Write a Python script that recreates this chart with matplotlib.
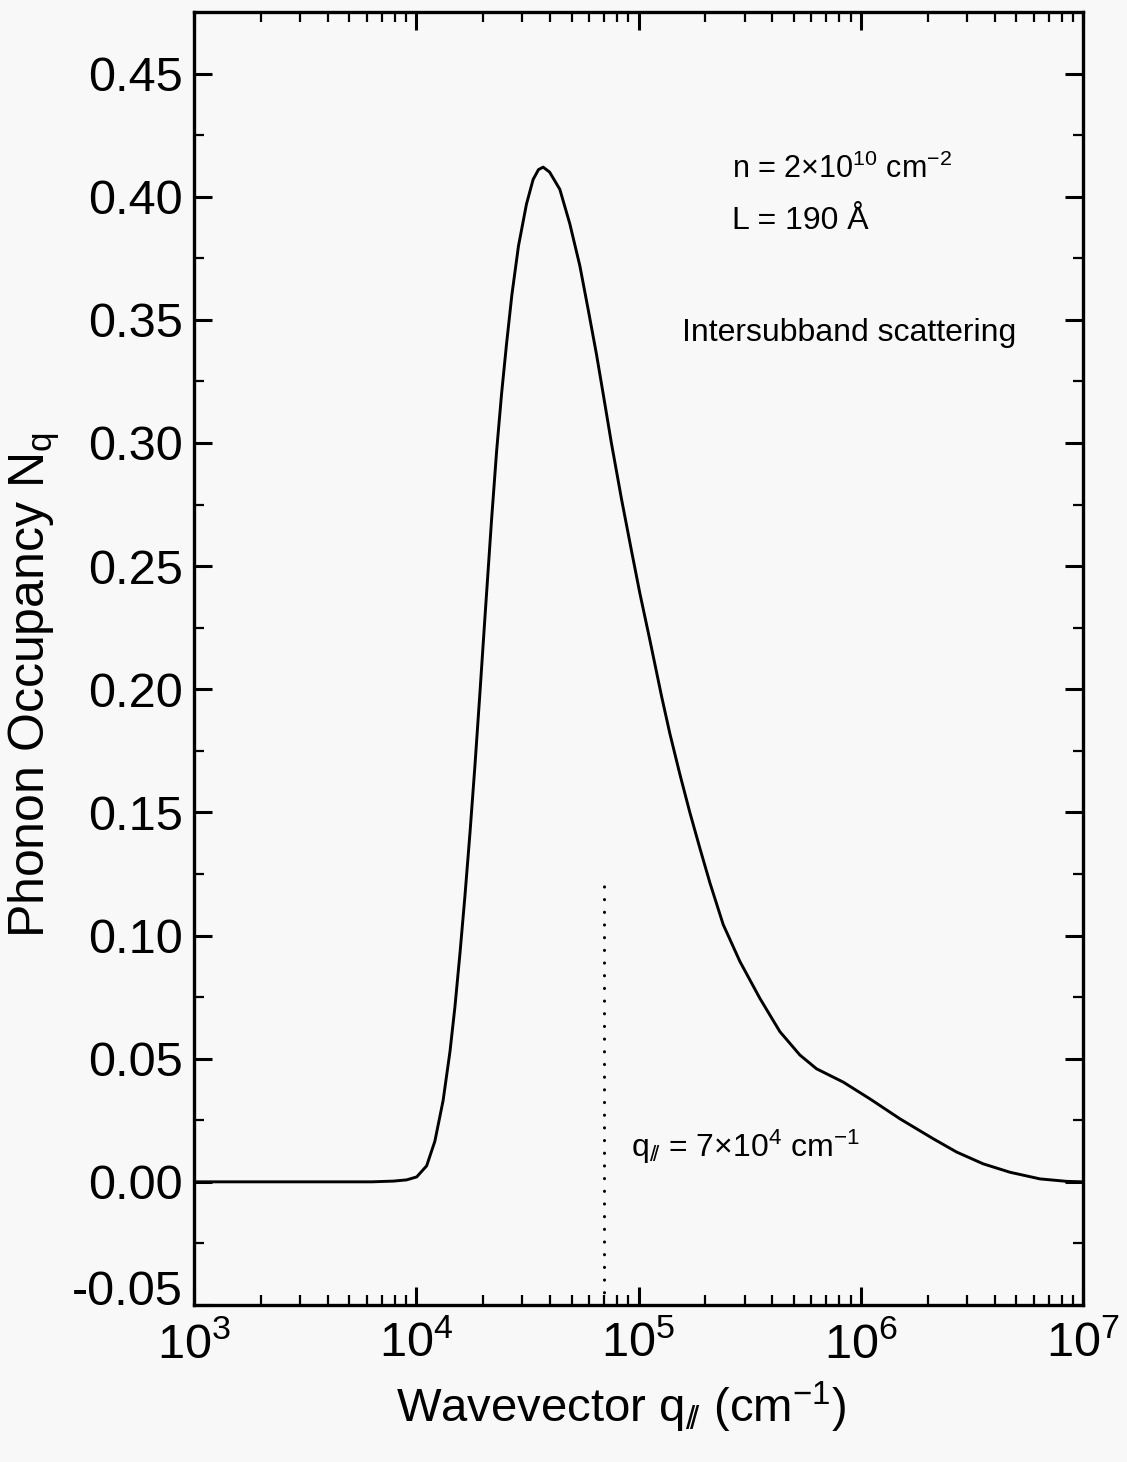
import numpy as np
import matplotlib
matplotlib.use("Agg")
from matplotlib import pyplot as plt
from matplotlib.ticker import FixedLocator, FuncFormatter, LogLocator, NullFormatter

plt.rcParams["font.family"] = ["Liberation Sans", "DejaVu Sans"]
plt.rcParams["mathtext.fontset"] = "custom"
plt.rcParams["mathtext.rm"] = "Liberation Sans"
plt.rcParams["mathtext.it"] = "Liberation Sans"
plt.rcParams["mathtext.default"] = "regular"
plt.rcParams["axes.unicode_minus"] = False

# =============================================================================
# data
# =============================================================================

# in-plane wavevector q (cm^-1)
q_par = [
    1.0e3, 3.16e3, 6.3e3, 7.9e3, 9.06e3, 1.005e4, 1.114e4, 1.213e4, 1.321e4,
    1.419e4, 1.493e4, 1.574e4, 1.656e4, 1.746e4, 1.837e4, 1.936e4, 2.037e4,
    2.183e4, 2.301e4, 2.421e4, 2.547e4, 2.692e4, 2.884e4, 3.133e4, 3.357e4,
    3.548e4, 3.724e4, 3.981e4, 4.426e4, 4.909e4, 5.445e4, 5.943e4, 6.471e4,
    6.934e4, 7.551e4, 8.395e4, 9.311e4, 1.014e5, 1.125e5, 1.271e5, 1.384e5,
    1.535e5, 1.702e5, 1.888e5, 2.094e5, 2.404e5, 2.858e5, 3.516e5, 4.325e5,
    5.321e5, 6.324e5, 8.337e5, 1.099e6, 1.500e6, 2.118e6, 2.698e6, 3.556e6,
    4.688e6, 6.397e6, 8.433e6, 1.0e7,
]

# phonon occupancy N_q
n_occ = [
    0.0, 0.0, 0.0, 0.0003, 0.0008, 0.002, 0.0065, 0.0165, 0.033,
    0.053, 0.071, 0.093, 0.116, 0.142, 0.169, 0.199, 0.229,
    0.269, 0.297, 0.320, 0.340, 0.360, 0.380, 0.397, 0.407,
    0.411, 0.412, 0.410, 0.403, 0.389, 0.372, 0.354, 0.336,
    0.320, 0.300, 0.277, 0.256, 0.239, 0.220, 0.197, 0.182,
    0.1655, 0.150, 0.1355, 0.1215, 0.1045, 0.0895, 0.0745, 0.061,
    0.0515, 0.0459, 0.0405, 0.0337, 0.0256, 0.0175, 0.0121, 0.0073,
    0.0039, 0.0012, 0.0002, 0.0,
]

# marker for q = 7e4 cm^-1
q_mark = 7e4
q_mark_top = 0.121

y_ticks = [-0.05, 0.00, 0.05, 0.10, 0.15, 0.20, 0.25, 0.30, 0.35, 0.40, 0.45]

# =============================================================================
# plot
# =============================================================================

bg = "#f8f8f8"
fig = plt.figure(figsize=(11.27, 14.62), dpi=100, facecolor=bg)
ax = fig.add_axes([0.1721, 0.1074, 0.7889, 0.8844], facecolor=bg)

ax.plot(q_par, n_occ, color="black", lw=2.1, solid_joinstyle="round")

# dotted marker line
ax.plot(
    [q_mark, q_mark],
    [-0.05, q_mark_top],
    color="black",
    lw=2.2,
    linestyle=(0, (0.05, 4.1)),
    dash_capstyle="round",
)

ax.set_xscale("log")
ax.set_xlim(1e3, 1e7)
ax.set_ylim(-0.05, 0.475)

# ticks
ax.yaxis.set_major_locator(FixedLocator(y_ticks))
ax.yaxis.set_minor_locator(FixedLocator(np.array(y_ticks[:-1]) + 0.025))
ax.yaxis.set_major_formatter(FuncFormatter(lambda v, p: "%.2f" % v))

ax.xaxis.set_major_locator(LogLocator(base=10, numticks=10))
ax.xaxis.set_minor_locator(LogLocator(base=10, subs=np.arange(2, 10), numticks=10))
ax.xaxis.set_major_formatter(FuncFormatter(lambda v, p: r"$10^{%d}$" % round(np.log10(v))))
ax.xaxis.set_minor_formatter(NullFormatter())

ax.tick_params(which="both", direction="in", top=True, right=True, labelsize=35)
ax.tick_params(which="major", length=13, width=2.2)
ax.tick_params(which="minor", length=7, width=1.6)
ax.tick_params(axis="y", pad=8)
ax.tick_params(axis="x", pad=12)

# lift the bottom y label off the x tick labels
ax.yaxis.get_major_ticks()[0].label1.set_verticalalignment("baseline")

for s in ax.spines.values():
    s.set_linewidth(2.4)

# axis labels
ax.set_xlabel(r"Wavevector q$_{/\!/}$ (cm$^{-1}$)", fontsize=34)
ax.xaxis.label.set_verticalalignment("baseline")
ax.xaxis.set_label_coords(0.48, -0.0905)

ax.set_ylabel(r"Phonon Occupancy N$_{q}$", fontsize=36)
ax.yaxis.set_label_coords(-0.148, 0.4795)

# annotations
ax.text(2.63e5, 0.4075, "n = 2×10$^{10}$ cm$^{-2}$", fontsize=22, ha="left", va="baseline")
ax.text(2.63e5, 0.3868, "L = 190 Å", fontsize=23, ha="left", va="baseline")
ax.text(1.57e5, 0.3413, "Intersubband scattering", fontsize=23, ha="left", va="baseline")
ax.text(9.3e4, 0.0100, r"q$_{/\!/}$ = 7×10$^{4}$ cm$^{-1}$", fontsize=23, ha="left", va="baseline")

plt.savefig("out.png", dpi=100, facecolor=bg)
